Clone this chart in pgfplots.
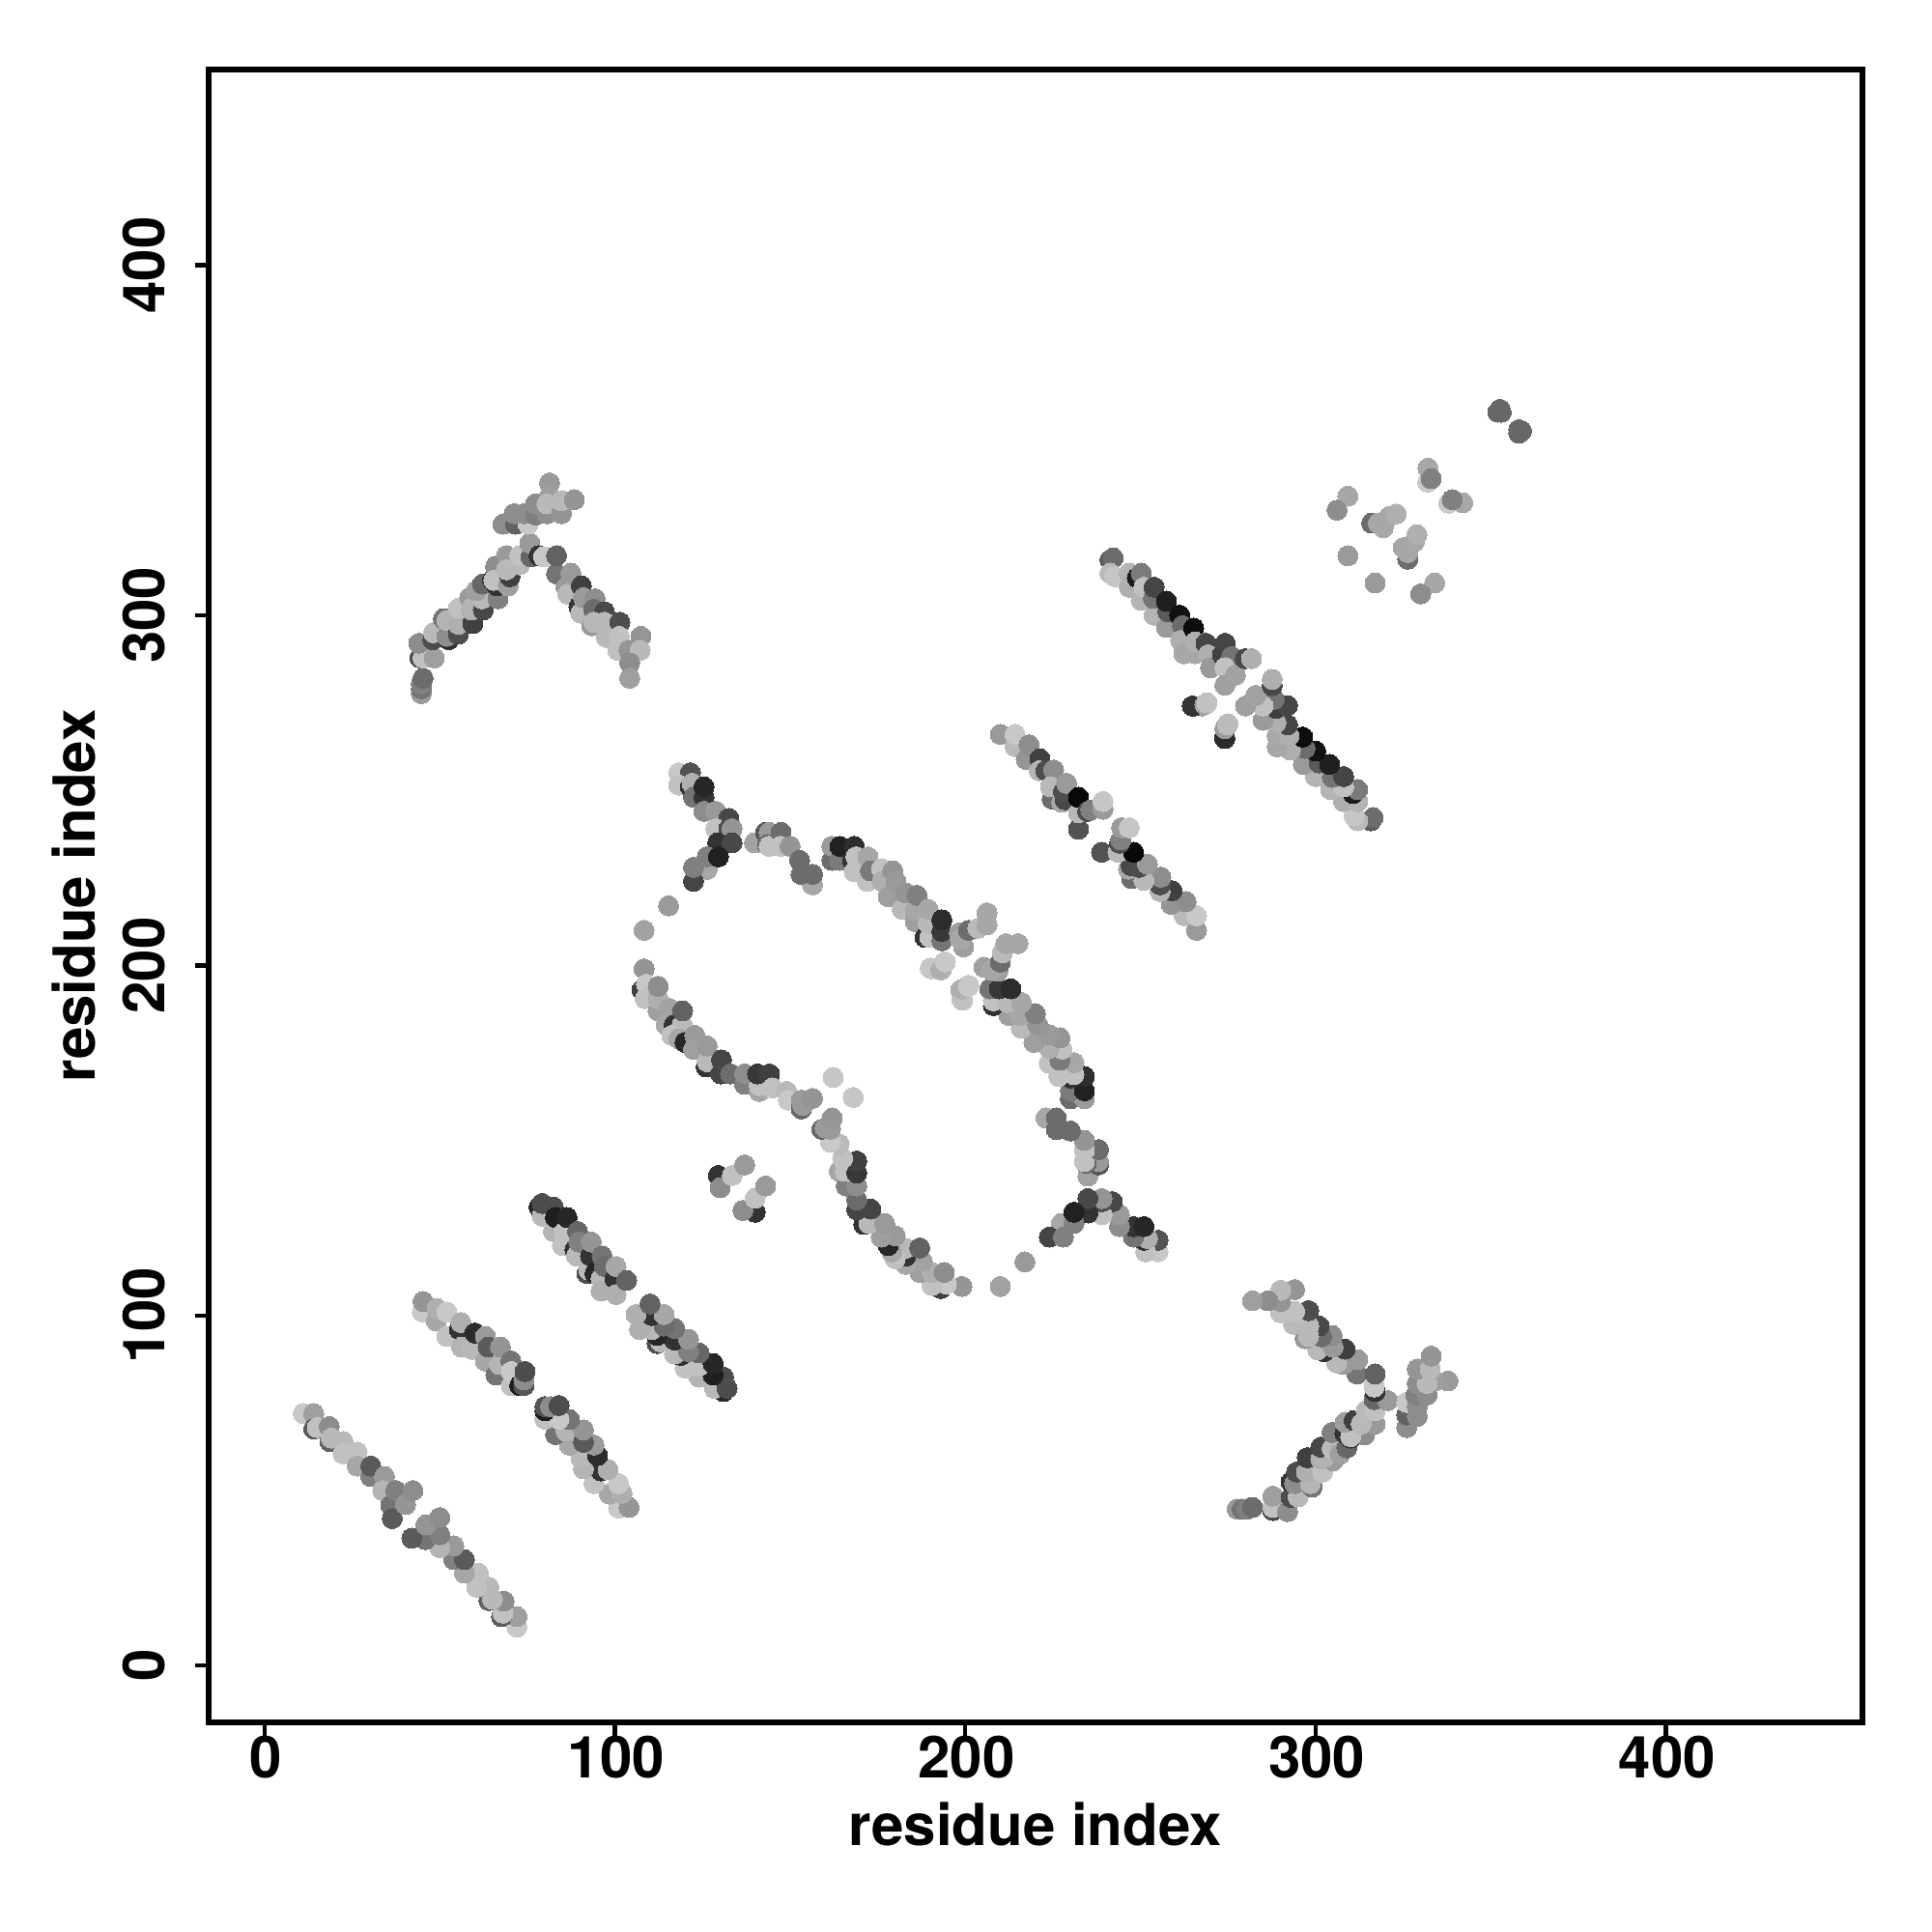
\documentclass[border=0pt]{standalone}
\usepackage{fontspec}
\setmainfont{TeX Gyre Heros}
\usepackage{pgfplots}
\usepackage{pgfplotstable}
\pgfplotsset{compat=1.18}
\pgfplotstableread{
x y c
11 72 .78
14 72 .62
14 67.6 .35
15 68 .75
18.4 68.3 .55
18.6 64 .38
19 65 .72
22.4 64 .72
22.4 60.5 .75
26.4 61 .75
26.4 57 .65
30.3 54 .5
30.3 57 .35
34.2 54 .6
33.7 50 .7
36 45.8 .45
36.4 42 .35
37.4 50 .5
40.2 46 .58
42.3 50 .55
45 101 .78
45.2 104 .58
49 98.4 .65
49.2 102 .68
52 101 .78
52 94 .75
55.6 96 .2
56 98 .68
56.2 91 .7
59.3 90.3 .72
60 95 .17
63 87 .65
63 94 .6
63.8 91 .35
66 83 .45
67 86 .7
67.3 91 .58
70.3 87 .45
70.4 80 .75
70.4 84 .78
72.8 80 .12
74 80 .33
74 81.6 .55
74.3 84 .3
78.3 131 .15
79.2 128.4 .72
79.2 132 .3
82.4 124 .7
82.4 131 .3
83 128 .12
85 120 .75
85.6 124 .75
86.3 128 .15
88.6 118.8 .2
89 117 .72
89.3 124 .4
89.7 121 .5
92 112 .3
92.5 113 .72
93 117 .2
93.2 121 .58
94.3 112 .15
96 110.5 .72
96 107 .68
96.3 117 .45
97 114 .42
100 110.5 .2
100.3 106 .68
100.3 114 .65
103.3 110 .38
44.7 277.6 .6
44.7 279 .45
44.7 280.4 .5
45.2 282 .42
44.3 287.8 .3
45.2 287.8 .75
44 292 .55
48.4 287.8 .62
48 293 .3
48.2 295 .72
52.5 293 .2
52 294 .55
51 299 .45
52 298.5 .7
55.3 294.6 .3
55.3 297.4 .68
55.3 302 .75
59.4 297.6 .25
58.5 305 .6
59 301.5 .68
59.4 302.4 .7
62.4 301.5 .28
62 304.7 .72
60.4 307 .62
62.2 308.9 .4
66.6 304.7 .5
66.3 308.4 .2
65 310 .2
65.9 314 .55
65.4 310 .75
69.5 308.4 .62
70 311 .25
69 317 .6
69 313 .72
72.8 314.4 .72
72.8 317 .75
76 316.7 .4
75.7 320.6 .6
78.3 317 .2
79.6 316.7 .78
83.3 311.8 .45
83.3 317 .38
86 308 .6
87.4 312 .6
86.5 306 .72
90.4 308.4 .25
89.7 302.4 .2
90.2 300.6 .72
91 305 .6
94.3 304.7 .55
93.4 297 .6
93.9 301.7 .42
97 301 .28
94 298 .72
97 298 .72
97.5 293.7 .72
101.4 298 .3
101.2 294 .75
100.8 290 .75
104 290 .58
107.4 294 .58
107.2 290 .72
104.2 286.4 .55
104.2 282 .62
68 326 .55
71.6 326 .38
71.2 329 .55
75.2 326 .78
74 329 .55
77.3 328.6 .5
77.3 331.8 .55
80.6 329 .55
81.3 337.8 .6
81.3 334 .62
80.6 331.8 .72
84.7 329 .58
84.7 332.7 .72
88.4 333 .58
118.2 255 .78
121.5 255 .32
118.2 251.5 .75
121.5 251 .2
122 252 .68
122.4 248 .45
125.4 248 .2
125.4 251 .15
125.4 244 .55
128.8 244 .6
132.5 242 .28
128.8 239 .75
132.5 239 .3
133.4 239 .58
129.3 235 .2
133.4 235 .28
126.3 227.4 .65
126.3 231 .5
129.5 231 .13
122.4 224 .27
122.4 228 .5
115.3 217 .6
108.3 210 .63
108.3 199 .58
107.7 193 .25
109 194.6 .78
108.6 190.5 .75
112.3 187 .62
112.3 190.5 .68
112.3 194 .55
115.5 187.7 .63
114.6 183 .65
116.9 183 .2
119.2 183 .72
119.3 187 .38
116.2 180 .75
118.2 179 .65
120 178 .15
122.8 180 .6
122.4 176 .62
126 171 .2
126.3 172.5 .72
126.3 177 .6
130.2 169 .27
130.4 173 .27
133 169 .42
137 166 .5
137 169 .55
141.2 164 .65
141.2 165.7 .75
140.7 169 .22
144.1 169 .25
144.9 165 .75
149 164 .72
149.5 161.5 .78
153.2 159 .4
153.6 160 .6
153.2 161.5 .6
156.4 162 .58
162.3 168 .77
139.8 235 .63
143 238 .33
144 238 .6
143.5 234.5 .42
144 234 .75
147.4 238 .42
147.2 234 .75
150 234 .58
152.7 230 .42
156.4 223 .65
153.1 226 .42
156.4 226 .42
129.5 140 .2
130 136.5 .55
133.5 140 .75
137 143 .6
161.9 230 .42
161.9 234 .6
164.2 230 .48
164.2 234 .13
167.8 230 .2
168.3 234 .18
168.3 226.7 .75
168.8 231 .75
172 224 .75
172.2 231 .65
172.9 227 .48
176.1 227.6 .75
176.3 224 .68
178 219.6 .62
179.3 227 .58
180.2 224 .6
182 216 .72
183 220.7 .58
185.7 212.5 .62
185.7 215.7 .65
186.2 220 .5
188.5 208 .2
189.9 208 .75
189.4 212 .72
189.4 216 .65
193.3 207 .45
193.3 209.7 .22
193.3 213 .17
190.3 199 .77
193 198.7 .68
194.3 201 .78
199.2 190 .75
199 193.2 .68
200.9 194 .78
198.3 209.3 .62
199.5 205.3 .62
198.6 207.4 .65
200.9 210 .42
203.6 210.6 .72
206.2 211.6 .65
206.2 215 .65
210 266 .6
214.2 262.5 .72
214.2 266 .78
217.4 258.8 .58
218.2 263 .55
221.3 259 .25
221.1 255.6 .7
223 255.6 .3
225.2 255.8 .55
224.8 247.5 .42
224.3 251 .72
227.5 246.6 .65
228.5 247.3 .28
228 249.6 .3
228.9 252 .6
232.3 238.9 .32
232.3 243.6 .72
232.3 248 .03
234.9 244 .3
235.8 244.4 .5
239.3 244.6 .6
239.3 246.8 .77
241.3 315.8 .35
242.2 316.4 .42
241.3 312 .72
242.7 311 .77
246.8 308 .68
246.8 312 .7
249.1 310.7 .1
250.2 312 .48
250.2 304.3 .7
251 308 .75
253.9 300 .7
253.7 304.8 .45
253.9 308 .27
257.4 296.5 .6
257.8 301 .35
257.4 304 .12
261.2 300 .07
262 297 .42
261.5 292.8 .68
262.4 289 .65
265.2 296.3 .05
265.6 289 .65
265.6 292.4 .68
268.7 292 .27
269.3 288.7 .68
270 285 .6
273.4 288.7 .25
274.2 292 .27
276 288.2 .45
274.1 285 .75
274.1 280 .62
277.1 282.9 .63
279.9 287.6 .28
281.7 287.6 .68
265 274 .2
268.4 274.5 .65
269 275 .75
274.1 264.8 .17
274.1 267.6 .6
274.8 268.7 .73
309.2 334 .65
306.1 330 .55
309.2 317 .6
316 326.3 .42
317.9 326.3 .65
319.3 325 .65
321 328.2 .65
323 328.9 .68
332 338 .78
332.1 342 .65
333 339 .5
352 358 .4
353 358 .4
352.6 358.8 .4
}\contacts
\begin{document}
\begin{tikzpicture}[x=1pt,y=1pt]
\path[use as bounding box] (0,0) rectangle (500,500);
\begin{axis}[
  at={(54pt,54.25pt)}, anchor=south west,
  scale only axis, width=427.9pt, height=427.7pt,
  xmin=-16, xmax=456, ymin=-16.2, ymax=455.8,
  axis line style={line width=1.45pt},
  xtick={0,100,200,300,400}, ytick={0,100,200,300,400},
  xticklabels={0,100,200,300,400}, yticklabels={0,100,200,300,400},
  xtick pos=bottom, ytick pos=left, tick align=outside,
  major tick length=3.4pt,
  tick style={line width=1.1pt,black},
  font=\fontsize{15}{18}\selectfont\bfseries,
  xticklabel style={anchor=base,yshift=-11pt,xshift=0.3pt},
  yticklabel style={rotate=90,anchor=base,yshift=8pt},
  xlabel={residue index}, ylabel={residue index},
  xlabel style={at={(axis description cs:0.5,-0.0745)},anchor=base},
  ylabel style={at={(axis description cs:-0.0685,0.5)},anchor=base},
  colormap={grays}{gray(0cm)=(0); gray(1cm)=(1)},
  point meta min=0, point meta max=1,
  clip=true,
]
\addplot[scatter, only marks, mark=*, mark size=2.6pt, point meta=explicit,
  scatter/use mapped color={draw=mapped color,fill=mapped color,line width=0pt}]
  table[x=y,y=x,meta=c] {\contacts};
\addplot[scatter, only marks, mark=*, mark size=2.6pt, point meta=explicit,
  scatter/use mapped color={draw=mapped color,fill=mapped color,line width=0pt}]
  table[x=x,y=y,meta=c] {\contacts};
\end{axis}
\end{tikzpicture}
\end{document}
